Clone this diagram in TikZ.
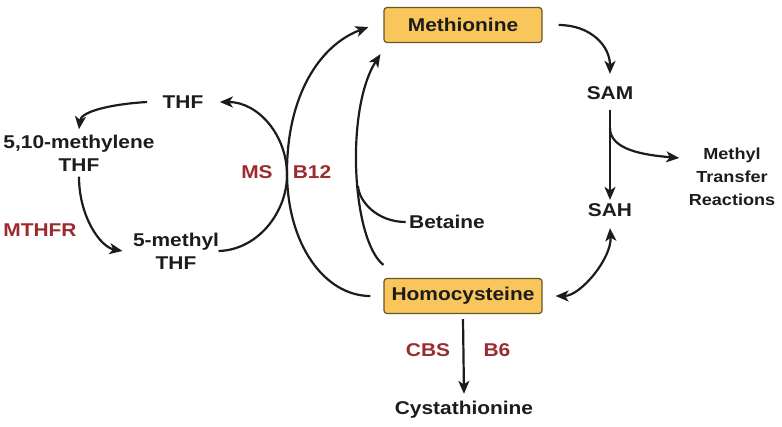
\documentclass[tikz,border=0pt]{standalone}
\usepackage{fontspec}
\setmainfont{Liberation Sans}[FakeStretch=1.13]
\usetikzlibrary{arrows.meta}
\definecolor{boxfill}{HTML}{F9C65B}
\definecolor{boxline}{HTML}{6B5428}
\definecolor{enzyme}{HTML}{9C2A2E}
\definecolor{ink}{HTML}{1C1C1C}
\tikzset{>={Stealth[length=13pt,width=11pt,inset=3.5pt]},
  every node/.style={font=\fontsize{18.5}{23}\selectfont\bfseries,text=ink,align=center},
  keybox/.style={draw=boxline,fill=boxfill,rounded corners=3pt,line width=1.2pt,minimum width=158pt,minimum height=35pt},
  enz/.style={text=enzyme},
  flow/.style={draw=ink,line width=2.2pt,->},
  link/.style={draw=ink,line width=2.2pt}}
\begin{document}
\begin{tikzpicture}[x=1pt,y=-1pt]
\useasboundingbox (0,0) rectangle (782,426);
\node[keybox] (met) at (463,25) {Methionine};
\node[keybox] (hcy) at (463,296) {Homocysteine};
\node (cys) at (464,410) {Cystathionine};
\node (sam) at (610,93) {SAM};
\node (sah) at (610,210) {SAH};
\node[font=\fontsize{16}{23}\selectfont\bfseries] (mtr) at (732,177) {Methyl\\Transfer\\Reactions};
\node (thf) at (183,102) {THF};
\node (mthf) at (79,153) {5,10-methylene\\THF};
\node (meth) at (176,251) {5-methyl\\THF};
\node (bet) at (447,222) {Betaine};
\node[enz] (ms) at (257,172) {MS};\node[enz] (b12) at (312,172) {B12};
\node[enz] (mthfr) at (40,230) {MTHFR};
\node[enz] (cbs) at (428,350) {CBS};\node[enz] (b6) at (497,350) {B6};
\coordinate (br) at (610,128);\coordinate (bj) at (358,186);
\draw[flow] ([xshift=16pt]met.east) .. controls +(32,0) and +(0,-28) .. ([yshift=9pt]sam.north);
\draw[flow] ([yshift=-7pt]sam.south) -- (sah.north);
\draw[flow] (br) .. controls +(0,22) and +(-35,-3) .. ([shift={(-6pt,19pt)}]mtr.west);
\draw[flow,<->] ([xshift=13pt]hcy.east) .. controls +(25,0) and +(2,30) .. ([yshift=-8pt]sah.south);
\draw[flow] ([yshift=-5pt]hcy.south) -- ([yshift=4pt]cys.north);
\draw[flow] ([xshift=-13pt]hcy.west) .. controls (325,296) and (287,245) .. (287,172)
  .. controls (287,95) and (320,45) .. ([shift={(-15pt,-2pt)}]met.west);
\draw[flow] ([yshift=13pt]hcy.north west) .. controls (352,240) and (345,110) .. ([shift={(-3pt,-11pt)}]met.south west);
\draw[link] (bet.west) .. controls +(-28,0) and +(1,16) .. (bj);
\draw[flow] ([xshift=-4pt]meth.east) .. controls (258,250) and (287,212) .. (287,175)
  .. controls (287,135) and (258,102) .. ([xshift=13pt]thf.east);
\draw[flow] ([xshift=-12pt]thf.west) .. controls +(-35,2) and +(2,-18) .. ([yshift=2pt]mthf.north);
\draw[flow] ([yshift=-2pt]mthf.south) .. controls +(0,40) and +(-22,-4) .. ([xshift=-7pt]meth.west);
\end{tikzpicture}
\end{document}
